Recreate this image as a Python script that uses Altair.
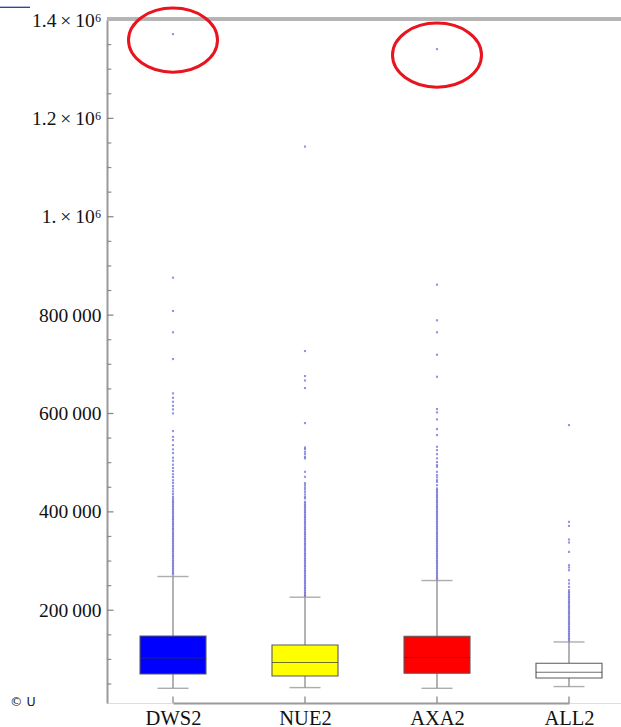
import altair as alt
import pandas as pd

cats = ["DWS2", "NUE2", "AXA2", "ALL2"]
fills = ["#0000ff", "#ffff00", "#ff0000", "#ffffff"]
q1 = [70400, 66300, 71800, 62300]
med = [103000, 93600, 103800, 73900]
q3 = [147700, 129400, 147100, 92200]
whisk_lo = [41300, 42700, 41300, 44800]
whisk_hi = [268600, 226500, 260400, 135500]

dws2_out = [1371300, 876100, 808400, 765000, 710700, 640900, 631900, 623800, 615700, 608300,
            600200, 564200, 552600, 545900, 535700, 527000, 519500, 510200, 503800, 496000,
            489300, 483100, 476500, 470800, 464200, 458900, 452600, 447300, 441800, 436500,
            431000, 427200, 423500, 420100, 416800, 413200, 409700, 406300, 402900, 399400,
            396000, 392500, 389200, 385600, 382300, 378800, 375400, 371900, 368500, 365100,
            361700, 358200, 354800, 351300, 347900, 344500, 341100, 337600, 334200, 330800,
            327300, 323900, 320500, 317000, 313600, 310200, 306700, 303300, 299900, 296400,
            293000, 289600, 286100, 282700, 279300, 275800, 272400]
nue2_out = [1142600, 727000, 676100, 667000, 651700, 580500, 531000, 527600, 522100, 517400,
            511900, 508700, 481400, 471200, 458400, 454300, 449600, 445600, 440700, 435400,
            430500, 427300, 420400, 417000, 413600, 410100, 406700, 403300, 399800, 396400,
            393000, 389500, 386100, 382700, 379200, 375800, 372400, 368900, 365500, 362100,
            358600, 355200, 351800, 348300, 344900, 341500, 338000, 334600, 331200, 327700,
            324300, 320900, 317400, 314000, 310600, 307100, 303700, 300300, 296800, 293400,
            290000, 286500, 283100, 279700, 276200, 272800, 269400, 265900, 262500, 259100,
            255600, 252200, 248800, 245300, 241900, 238500, 235000, 231600, 228800]
axa2_out = [1340800, 861900, 789400, 765000, 719400, 674700, 609000, 602200, 588000, 568300,
            556100, 532300, 525500, 517400, 508700, 501100, 495000, 491600, 481400, 474700,
            470000, 464500, 461000, 454300, 447600, 444200, 440800, 437400, 433900, 430500,
            427100, 423600, 420200, 416800, 413300, 409900, 406500, 403000, 399600, 396200,
            392700, 389300, 385900, 382400, 379000, 375600, 372100, 368700, 365300, 361800,
            358400, 355000, 351500, 348100, 344700, 341200, 337800, 334400, 330900, 327500,
            324100, 320600, 317200, 313800, 310300, 306900, 303500, 300000, 296600, 293200,
            289700, 286300, 282900, 279400, 276000, 272600, 269100, 265700, 262300]
all2_out = [576400, 379700, 371500, 343800, 337700, 318600, 291600, 286900, 281400, 261000,
            254300, 247400, 240700, 237300, 233900, 230400, 227000, 223600, 220100, 216700,
            213300, 209800, 206400, 203000, 199500, 196100, 192700, 189200, 185800, 182400,
            178900, 175500, 172100, 168600, 165200, 161800, 158300, 154900, 151500, 148000,
            144600, 141200, 137800]

circled_cat = ["DWS2", "AXA2"]
circled_val = [1371300, 1340800]

major_ticks = [200000, 400000, 600000, 800000, 1000000, 1200000, 1400000]
minor_ticks = [50000, 100000, 150000, 250000, 300000, 350000, 450000, 500000, 550000,
               650000, 700000, 750000, 850000, 900000, 950000, 1050000, 1100000, 1150000,
               1250000, 1300000, 1350000]

W, H = 514, 683
Y_DOMAIN = [11400, 1400000]

stats = pd.DataFrame({"cat": cats, "q1": q1, "med": med, "q3": q3,
                      "lo": whisk_lo, "hi": whisk_hi})
out_rows = []
for c, vals in zip(cats, [dws2_out, nue2_out, axa2_out, all2_out]):
    for v in vals:
        out_rows.append({"cat": c, "v": v})
outliers = pd.DataFrame(out_rows)
circ = pd.DataFrame({"cat": circled_cat, "v": circled_val})
majors = pd.DataFrame({"v": major_ticks})
minors = pd.DataFrame({"v": minor_ticks})
cat_df = pd.DataFrame({"cat": cats})

xscale = alt.Scale(type="point", domain=cats, range=[66, 462], padding=0)
yscale = alt.Scale(domain=Y_DOMAIN, nice=False, zero=False)

label_expr = ("datum.value == 1000000 ? '1.\u2009×\u200910⁶' : "
              "(datum.value > 1000000 ? format(datum.value/1000000, '.1f') + '\u2009×\u200910⁶' : "
              "replace(format(datum.value, ','), ',', '\u2009'))")

xaxis = alt.Axis(title=None, ticks=False, labelAngle=0, labelFont="Liberation Serif",
                 labelFontSize=20.5, labelColor="#111", labelPadding=5,
                 domainColor="#9a9a9a", domainWidth=2, grid=False)
yaxis = alt.Axis(title=None, ticks=False, values=major_ticks, labelExpr=label_expr,
                 labelFont="Liberation Serif", labelFontSize=19.5, labelColor="#111",
                 labelPadding=6, domainColor="#9a9a9a", domainWidth=2, grid=False)


def X(field):
    return alt.X(field, type="nominal", scale=xscale, axis=xaxis, sort=cats)


def Y(field):
    return alt.Y(field, type="quantitative", scale=yscale, axis=yaxis)


base = alt.Chart(stats)

whisk = base.mark_rule(color="#8a8a8a", strokeWidth=1.3).encode(
    x=X("cat"), y=Y("lo"), y2="hi")

pts = alt.Chart(outliers).mark_square(size=4.5, color="#3a3ac8", opacity=0.55).encode(
    x=X("cat"), y=Y("v"))

cap_lo = base.mark_tick(orient="horizontal", size=31, thickness=1.4, color="#8a8a8a").encode(
    x=X("cat"), y=Y("lo"))
cap_hi = base.mark_tick(orient="horizontal", size=31, thickness=1.4, color="#8a8a8a").encode(
    x=X("cat"), y=Y("hi"))

box = base.mark_bar(size=66, stroke="#5a5a5a", strokeWidth=1.1).encode(
    x=X("cat"), y=Y("q1"), y2="q3",
    color=alt.Color("cat:N", scale=alt.Scale(domain=cats, range=fills), legend=None),
)

median = base.mark_tick(orient="horizontal", size=66, thickness=1.1, color="#333333").encode(
    x=X("cat"), y=Y("med"))

ymaj = alt.Chart(majors).mark_rule(color="#8a8a8a", strokeWidth=1.3).encode(
    y=Y("v"), x=alt.value(0), x2=alt.value(6.5))
ymin = alt.Chart(minors).mark_rule(color="#8a8a8a", strokeWidth=1.2).encode(
    y=Y("v"), x=alt.value(0), x2=alt.value(4.3))
xt = alt.Chart(cat_df).mark_rule(color="#8a8a8a", strokeWidth=1.3).encode(
    x=X("cat"), y=alt.value(H), y2=alt.value(H - 6.5))

topline = alt.Chart(cat_df).mark_rule(color="#b4b4b4", strokeWidth=3).encode(
    y=alt.value(-1), x=alt.value(0), x2=alt.value(W))

ellipse_path = "M-1,0A1,0.72,0,1,1,1,0A1,0.72,0,1,1,-1,0Z"
ellipses = alt.Chart(circ).mark_point(shape=ellipse_path, size=7921, filled=False,
                                      color="#e8141e", strokeWidth=3, opacity=1,
                                      yOffset=6).encode(
    x=X("cat"), y=Y("v"))

copy_txt = alt.Chart(cat_df).transform_filter(alt.datum.cat == "DWS2").mark_text(
    text="© U", font="DejaVu Sans", fontSize=12.5, align="left", baseline="alphabetic",
    color="#222").encode(x=alt.value(-97), y=alt.value(685.5))

link_line = alt.Chart(cat_df).transform_filter(alt.datum.cat == "DWS2").mark_rule(
    color="#1f3f9f", strokeWidth=1.3).encode(
    y=alt.value(-12.7), x=alt.value(-107), x2=alt.value(-77))

chart = alt.layer(
    whisk, pts, cap_lo, cap_hi, box, median, ymaj, ymin, xt, topline, ellipses,
    copy_txt, link_line
).properties(
    width=W, height=H,
    autosize=alt.AutoSizeParams(type="none"),
    padding={"left": 107, "top": 20, "right": 0, "bottom": 24},
).configure_view(stroke=None).configure(background="white")

chart.save("out.html", embed_options={"renderer": "svg", "actions": False})
